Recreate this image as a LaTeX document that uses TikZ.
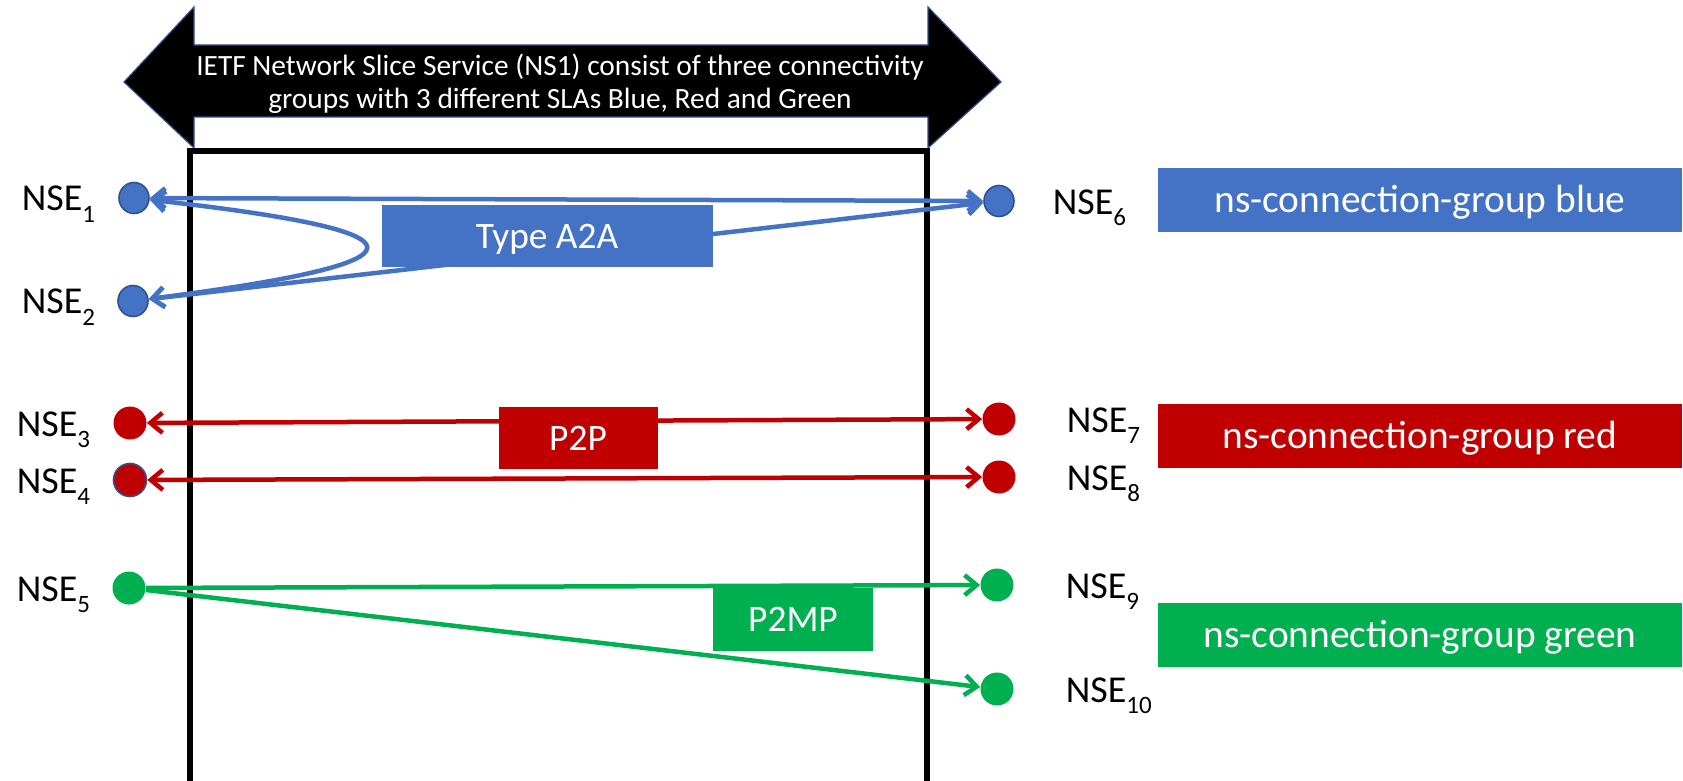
\documentclass[tikz,border=0pt]{standalone}
\usepackage{fontspec}
\setmainfont{Carlito}
\usetikzlibrary{arrows.meta, shapes.geometric}
\newcommand{\nsesub}[1]{NSE\raisebox{-0.3em}{\fontsize{12.5}{13}\selectfont #1}}

\tikzset{
  sebl/.style={ellipse, inner sep=0pt, minimum width=15pt, minimum height=15.5pt, draw={rgb, 255:red, 47; green, 82; blue, 143}, line width=0.8pt, fill={rgb, 255:red, 68; green, 114; blue, 196}},
  sered/.style={ellipse, inner sep=0pt, minimum width=16.5pt, minimum height=16.5pt, fill={rgb, 255:red, 192; green, 0; blue, 0}},
  segrn/.style={ellipse, inner sep=0pt, minimum width=16.5pt, minimum height=16.5pt, fill={rgb, 255:red, 0; green, 176; blue, 80}},
  selbl/.style={anchor=base west, inner sep=0.75pt, font=\fontsize{19}{23}\selectfont},
  tagbox/.style={inner sep=0pt, text=white, text height=15.9pt, text depth=3.55pt, font=\fontsize{18.7}{22}\selectfont},
  grpbox/.style={inner sep=0pt, text=white, text height=16.7pt, text depth=3.75pt, font=\fontsize{19.7}{23}\selectfont, minimum width=262pt, minimum height=32pt},
  lnk/.style={line width=2.25pt, {Straight Barb[length=6pt,width=10pt]}-{Straight Barb[length=6pt,width=10pt]}},
  lnkone/.style={line width=2.25pt, -{Straight Barb[length=6pt,width=10pt]}}
}

\begin{document}
\begin{tikzpicture}[x=0.5pt,y=0.5pt,yscale=-1,xscale=1]
        \useasboundingbox (0,0) rectangle (1683,781);

        %Shape: Left-Right Arrow
        \draw [draw={rgb, 255:red, 47; green, 82; blue, 143}, line width=0.6pt, fill=black] (124,82) -- (194,7) -- (194,45) -- (928,45) -- (928,7) -- (1001,82) -- (928,148) -- (928,117) -- (194,117) -- (194,148) -- cycle ;
        % Text Node
        \draw (560,84) node [align=center, text=white, inner sep=0pt, font=\fontsize{14.7}{16.5}\selectfont] (title) {IETF Network Slice Service (NS1) consist of three connectivity\\groups with 3 different SLAs Blue, Red and Green};

        %Shape: Frame
        \draw [line width=3pt, line join=miter] (190,781) -- (190,151) -- (927,151) -- (927,781) ;

        %Shape: Circles
        \draw (134,198) node [sebl] (nse1) {};
        \draw (133,301) node [sebl] (nse2) {};
        \draw (130,423) node [sered] (nse3) {};
        \draw (130,480) node [sered, draw={rgb, 255:red, 47; green, 82; blue, 143}, line width=0.8pt] (nse4) {};
        \draw (129,588) node [segrn] (nse5) {};
        \draw (999,201) node [sebl] (nse6) {};
        \draw (999,419) node [sered] (nse7) {};
        \draw (999,477) node [sered] (nse8) {};
        \draw (997,585) node [segrn] (nse9) {};
        \draw (997,689) node [segrn] (nse10) {};

        % Text Node
        \draw (20,211) node [selbl] (lbl1) {\nsesub{1}};
        \draw (20,314) node [selbl] (lbl2) {\nsesub{2}};
        \draw (15,436) node [selbl] (lbl3) {\nsesub{3}};
        \draw (15,493) node [selbl] (lbl4) {\nsesub{4}};
        \draw (15,601) node [selbl] (lbl5) {\nsesub{5}};
        \draw (1051,214) node [selbl] (lbl6) {\nsesub{6}};
        \draw (1065,432) node [selbl] (lbl7) {\nsesub{7}};
        \draw (1065,490) node [selbl] (lbl8) {\nsesub{8}};
        \draw (1064,598) node [selbl] (lbl9) {\nsesub{9}};
        \draw (1064,702) node [selbl] (lbl10) {\nsesub{10}};

        %Straight Lines
        \draw [lnk, draw={rgb, 255:red, 68; green, 114; blue, 196}] (nse1) -- (nse6) ;
        \draw [lnk, draw={rgb, 255:red, 68; green, 114; blue, 196}] (nse1) .. controls (438,232) and (438,262) .. (nse2) ;
        \draw [lnk, draw={rgb, 255:red, 68; green, 114; blue, 196}] (nse2) -- (nse6) ;
        \draw [lnk, draw={rgb, 255:red, 192; green, 0; blue, 0}] (nse3) -- (nse7) ;
        \draw [lnk, draw={rgb, 255:red, 192; green, 0; blue, 0}] (nse4) -- (nse8) ;
        \draw [lnkone, draw={rgb, 255:red, 0; green, 176; blue, 80}] (nse5) -- (nse9) ;
        \draw [lnkone, draw={rgb, 255:red, 0; green, 176; blue, 80}] (nse5) -- (nse10) ;

        %Shape: Rectangles
        \draw (547,236) node [tagbox, fill={rgb, 255:red, 68; green, 114; blue, 196}, minimum width=165.5pt, minimum height=31pt] (a2a) {Type A2A};
        \draw (578,438) node [tagbox, fill={rgb, 255:red, 192; green, 0; blue, 0}, minimum width=79.5pt, minimum height=31pt] (p2p) {P2P};
        \draw (793,619) node [tagbox, fill={rgb, 255:red, 0; green, 176; blue, 80}, minimum width=80pt, minimum height=31.5pt] (p2mp) {P2MP};

        \draw (1420,200) node [grpbox, fill={rgb, 255:red, 68; green, 114; blue, 196}] (grpblue) {ns-connection-group blue};
        \draw (1420,436) node [grpbox, fill={rgb, 255:red, 192; green, 0; blue, 0}] (grpred) {ns-connection-group red};
        \draw (1420,635) node [grpbox, fill={rgb, 255:red, 0; green, 176; blue, 80}] (grpgreen) {ns-connection-group green};

\end{tikzpicture}
\end{document}
